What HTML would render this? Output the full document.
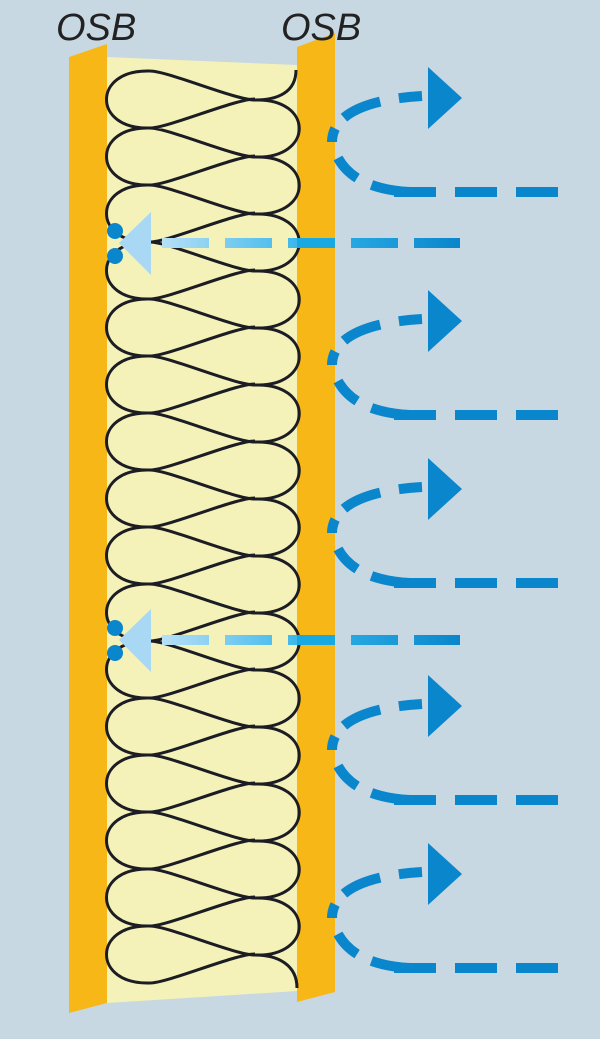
<!DOCTYPE html>
<html><head><meta charset="utf-8"><style>
html,body{margin:0;padding:0;background:#c8d8e3}
svg{display:block}
</style></head><body>
<svg width="600" height="1039" viewBox="0 0 600 1039" xmlns="http://www.w3.org/2000/svg">
<defs>
<linearGradient id="lb" x1="160" y1="0" x2="460" y2="0" gradientUnits="userSpaceOnUse">
<stop offset="0" stop-color="#b8e0f6"/><stop offset="0.5" stop-color="#30b4ea"/><stop offset="1" stop-color="#0a86cc"/>
</linearGradient>
</defs>
<rect width="600" height="1039" fill="#c8d8e3"/>
<polygon points="107,57 297,65 297,991 107,1003" fill="#f4f2b8"/>
<polygon points="69,57 107,44 107,1003 69,1013" fill="#f7b716"/>
<polygon points="297,47 335,33 335,992 297,1002" fill="#f7b716"/>
<path id="coil" fill="none" stroke="#1c1c24" stroke-width="3"/>
<text x="56" y="40" font-family="Liberation Sans, sans-serif" font-style="italic" font-size="38" fill="#222">OSB</text>
<text x="281" y="40" font-family="Liberation Sans, sans-serif" font-style="italic" font-size="38" fill="#222">OSB</text>
<g id="arrows" fill="none" stroke="#0a86cc" stroke-width="10"></g>
<g>
<line x1="162" y1="243" x2="460" y2="243" stroke="url(#lb)" stroke-width="10" stroke-dasharray="47 16"/>
<rect x="297" y="238" width="38" height="10" fill="#1aa8e0"/>
<polygon points="119,243 151,212 151,275" fill="#a8d8f4"/>
<circle cx="115" cy="231" r="8" fill="#0a86cc"/><circle cx="115" cy="256" r="8" fill="#0a86cc"/>
<line x1="162" y1="640" x2="460" y2="640" stroke="url(#lb)" stroke-width="10" stroke-dasharray="47 16"/>
<rect x="297" y="635" width="38" height="10" fill="#1aa8e0"/>
<polygon points="119,640 151,609 151,672" fill="#a8d8f4"/>
<circle cx="115" cy="628" r="8" fill="#0a86cc"/><circle cx="115" cy="653" r="8" fill="#0a86cc"/>
</g>
</svg>
<script>
(function(){
var P=57,d="",XL=150,XR=255;
function L(i){return 71+P*i;} function R(j){return 100+P*j;}
for(var i=0;i<16;i++){var y=L(i);
 d+="M"+XL+","+y+" C92,"+(y-2)+" 92,"+(y+P+2)+" "+XL+","+(y+P)+" ";}
for(var j=0;j<15;j++){var y=R(j);
 d+="M"+XR+","+y+" C314,"+(y-2)+" 314,"+(y+P+2)+" "+XR+","+(y+P)+" ";}
for(var i=0;i<=16;i++){var y=L(i);
 if(i>0) d+="M"+XL+","+y+" C168,"+y+" 235,"+(y-29)+" "+XR+","+(y-29)+" ";
 if(i<16) d+="M"+XL+","+y+" C168,"+y+" 235,"+(y+29)+" "+XR+","+(y+29)+" ";}
d+="M296,70 C296,92 278,100 "+XR+",100 ";
d+="M"+XR+","+R(15)+" C278,"+R(15)+" 297,"+(R(15)+10)+" 297,988";
document.getElementById("coil").setAttribute("d",d);
var g=document.getElementById("arrows"),ns="http://www.w3.org/2000/svg";
function add(tag,attrs,parent){var e=document.createElementNS(ns,tag);for(var a in attrs)e.setAttribute(a,attrs[a]);(parent||g).appendChild(e);return e;}
[98,321,489,706,874].forEach(function(T){
add("path",{d:"M332,"+(T+44)+" C332,"+(T+15)+" 370,"+(T+1)+" 422,"+(T-2),"stroke-dasharray":"14 14 40 19 40 30"});
add("path",{d:"M338,"+(T+60)+" C350,"+(T+82)+" 375,"+(T+92)+" 410,"+(T+94),"stroke-dasharray":"28 16 40"});
add("line",{x1:558,y1:T+94,x2:390,y2:T+94,"stroke-dasharray":"42 19"});
add("polygon",{points:"428,"+(T-31)+" 462,"+T+" 428,"+(T+31),fill:"#0a86cc",stroke:"none"},g.parentNode);
});
})();
</script>
</body></html>
